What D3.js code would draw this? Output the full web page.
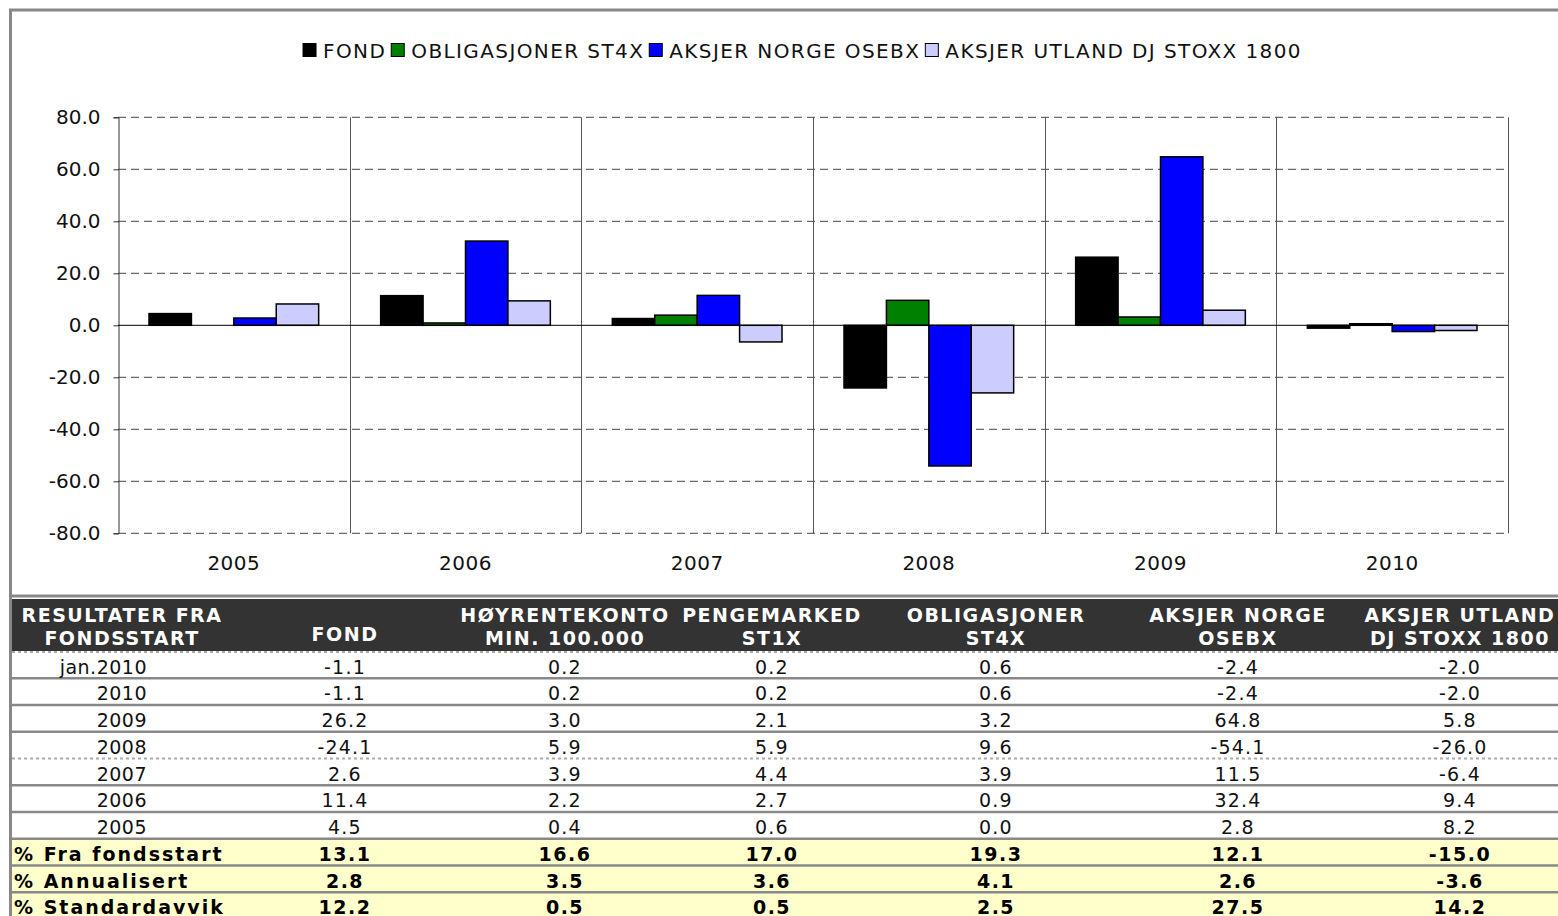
<!DOCTYPE html>
<html>
<head>
<meta charset="utf-8">
<script src="https://cdn.jsdelivr.net/npm/d3@7"></script>
<style>
  body { margin: 0; background: #fff; }
  svg { display: block; font-family: "DejaVu Sans", Verdana, sans-serif; }
</style>
</head>
<body>
<div id="chart"></div>
<script>
// chart data
var years = ["2005", "2006", "2007", "2008", "2009", "2010"];
var seriesNames = ["FOND", "OBLIGASJONER ST4X", "AKSJER NORGE OSEBX", "AKSJER UTLAND DJ STOXX 1800"];
var seriesColors = ["#000000", "#008000", "#0000ff", "#ccccff"];
var fond = [4.5, 11.4, 2.6, -24.1, 26.2, -1.1];
var obligasjoner = [0.0, 0.9, 3.9, 9.6, 3.2, 0.6];
var aksjerNorge = [2.8, 32.4, 11.5, -54.1, 64.8, -2.4];
var aksjerUtland = [8.2, 9.4, -6.4, -26.0, 5.8, -2.0];
var yTicks = [-80, -60, -40, -20, 0, 20, 40, 60, 80];

// table data
var tableHeaders = [
    ["RESULTATER FRA", "FONDSSTART"],
    ["FOND"],
    ["HØYRENTEKONTO", "MIN. 100.000"],
    ["PENGEMARKED", "ST1X"],
    ["OBLIGASJONER", "ST4X"],
    ["AKSJER NORGE", "OSEBX"],
    ["AKSJER UTLAND", "DJ STOXX 1800"]
];
var rowLabels = ["jan.2010", "2010", "2009", "2008", "2007", "2006", "2005"];
var rowValues = [
    [-1.1, 0.2, 0.2, 0.6, -2.4, -2.0],
    [-1.1, 0.2, 0.2, 0.6, -2.4, -2.0],
    [26.2, 3.0, 2.1, 3.2, 64.8, 5.8],
    [-24.1, 5.9, 5.9, 9.6, -54.1, -26.0],
    [2.6, 3.9, 4.4, 3.9, 11.5, -6.4],
    [11.4, 2.2, 2.7, 0.9, 32.4, 9.4],
    [4.5, 0.4, 0.6, 0.0, 2.8, 8.2]
];
var summaryLabels = ["% Fra fondsstart", "% Annualisert", "% Standardavvik"];
var summaryValues = [
    [13.1, 16.6, 17.0, 19.3, 12.1, -15.0],
    [2.8, 3.5, 3.6, 4.1, 2.6, -3.6],
    [12.2, 0.5, 0.5, 2.5, 27.5, 14.2]
];

////////////////////////////////////////////////////////////////////////////////

var W = 1558, H = 916;
var plot = { left: 118, right: 1508, top: 117.3, bottom: 533.3 };
var colCenters = [122, 345, 565, 772, 996, 1238, 1460];
var fmt = d3.formatLocale({
    decimal: ".", thousands: ",", grouping: [3], currency: ["", ""], minus: "-"
}).format(".1f");

var svg = d3.select("#chart").append("svg")
    .attr("width", W)
    .attr("height", H);

// frame round the chart
svg.append("rect")
    .attr("x", 10.5).attr("y", 10)
    .attr("width", 1600).attr("height", 586)
    .attr("fill", "#fff")
    .attr("stroke", "#888").attr("stroke-width", 3);

var x = d3.scaleBand().domain(years).range([plot.left, plot.right]);
var xs = d3.scaleBand().domain(seriesNames)
    .range([31, x.bandwidth() - 31]);
var y = d3.scaleLinear().domain([-80, 80]).range([plot.bottom, plot.top]);

// grid lines
svg.append("g").selectAll("line")
    .data(yTicks.filter(function(d) { return d != 0; }))
    .enter().append("line")
    .attr("x1", plot.left).attr("x2", plot.right)
    .attr("y1", function(d) { return y(d); })
    .attr("y2", function(d) { return y(d); })
    .attr("stroke", "#444").attr("stroke-width", 1)
    .attr("stroke-dasharray", "8,5");

// category separators
svg.append("g").selectAll("line")
    .data(years.slice(1).concat(["end"]))
    .enter().append("line")
    .attr("x1", function(d, i) { return Math.round(i < years.length - 1 ? x(d) : plot.right) + 0.5; })
    .attr("x2", function(d, i) { return Math.round(i < years.length - 1 ? x(d) : plot.right) + 0.5; })
    .attr("y1", plot.top).attr("y2", plot.bottom)
    .attr("stroke", "#555").attr("stroke-width", 1);

// y axis
var yAxis = d3.axisLeft(y)
    .tickValues(yTicks)
    .tickFormat(fmt)
    .tickSize(5)
    .tickPadding(13);
var yg = svg.append("g")
    .attr("transform", "translate(" + (plot.left + 0.5) + ",0)")
    .call(yAxis);
yg.select(".domain").attr("stroke", "#333");
yg.selectAll(".tick line").attr("stroke", "#333");
yg.selectAll("text")
    .attr("font-family", "DejaVu Sans, sans-serif")
    .attr("font-size", 20)
    .attr("fill", "#111");

// bars
var series = [fond, obligasjoner, aksjerNorge, aksjerUtland];
var barData = [];
years.forEach(function(yr, i) {
    series.forEach(function(s, j) {
        barData.push({ year: yr, name: seriesNames[j], color: seriesColors[j], value: s[i] });
    });
});

svg.append("g").selectAll("rect")
    .data(barData.filter(function(d) { return d.value != 0; }))
    .enter().append("rect")
    .attr("x", function(d) { return x(d.year) + xs(d.name); })
    .attr("width", xs.bandwidth())
    .attr("y", function(d) { return y(Math.max(0, d.value)); })
    .attr("height", function(d) { return Math.abs(y(d.value) - y(0)); })
    .attr("fill", function(d) { return d.color; })
    .attr("stroke", "#000").attr("stroke-width", 1.5);

// zero line
svg.append("line")
    .attr("x1", plot.left).attr("x2", plot.right)
    .attr("y1", y(0)).attr("y2", y(0))
    .attr("stroke", "#000").attr("stroke-width", 1);

// x labels
svg.append("g").selectAll("text")
    .data(years)
    .enter().append("text")
    .attr("x", function(d) { return x(d) + x.bandwidth() / 2; })
    .attr("y", 570)
    .attr("text-anchor", "middle")
    .attr("font-size", 20)
    .attr("letter-spacing", 0.5)
    .attr("fill", "#111")
    .text(function(d) { return d; });

// legend, packed then centred over the plot
var legend = svg.append("g");
var lx = 0;
seriesNames.forEach(function(name, i) {
    legend.append("rect")
        .attr("x", lx).attr("y", 43.5)
        .attr("width", 13).attr("height", 13)
        .attr("fill", seriesColors[i])
        .attr("stroke", "#000").attr("stroke-width", 1);
    var t = legend.append("text")
        .attr("x", lx + 20).attr("y", 58)
        .attr("font-size", 20)
        .attr("letter-spacing", 1.4)
        .attr("fill", "#111")
        .text(name);
    lx += 20 + t.node().getComputedTextLength() + 5;
});
legend.attr("transform", "translate(" + (805 - lx / 2) + ",0)");

////////////////////////////////////////////////////////////////////////////////
// table

var headTop = 599, headH = 52, rowTop = 652, rowH = 26.75;

// left border keeps going down
svg.append("line")
    .attr("x1", 10.5).attr("x2", 10.5)
    .attr("y1", 596).attr("y2", H)
    .attr("stroke", "#888").attr("stroke-width", 3);

svg.append("rect")
    .attr("x", 12).attr("y", headTop)
    .attr("width", W - 12).attr("height", headH)
    .attr("fill", "#333");

svg.append("g").selectAll("text")
    .data(tableHeaders)
    .enter().append("text")
    .attr("x", function(d, i) { return colCenters[i]; })
    .attr("text-anchor", "middle")
    .attr("font-size", 19)
    .attr("font-weight", "bold")
    .attr("letter-spacing", 1.5)
    .attr("fill", "#fff")
    .each(function(d) {
        var el = d3.select(this);
        if (d.length == 1)
        {
            el.attr("y", 641).text(d[0]);
        }
        else
        {
            el.attr("y", 621.5);
            d.forEach(function(line, k) {
                el.append("tspan")
                    .attr("x", el.attr("x"))
                    .attr("dy", k == 0 ? 0 : 23.5)
                    .text(line);
            });
        }
    });

// yellow summary rows
var sumTop = rowTop + rowLabels.length * rowH;
svg.append("rect")
    .attr("x", 12).attr("y", sumTop)
    .attr("width", W - 12).attr("height", H - sumTop)
    .attr("fill", "#ffffcc");

// row separators
var sepCount = rowLabels.length + summaryLabels.length - 1;
for (var i = 0; i < sepCount; ++i)
{
    var sy = rowTop + (i + 1) * rowH - 0.5;
    var dotted = (i == 3);
    svg.append("line")
        .attr("x1", 12).attr("x2", W)
        .attr("y1", sy).attr("y2", sy)
        .attr("stroke", dotted ? "#aaa" : "#888")
        .attr("stroke-width", dotted ? 2 : 2.5)
        .attr("stroke-dasharray", dotted ? "3,3" : null);
}
svg.append("line")
    .attr("x1", 12).attr("x2", W)
    .attr("y1", rowTop).attr("y2", rowTop)
    .attr("stroke", "#aaa").attr("stroke-width", 2)
    .attr("stroke-dasharray", "3,3");

// plain rows
var rows = svg.append("g").selectAll("g")
    .data(rowValues)
    .enter().append("g")
    .attr("transform", function(d, i) { return "translate(0," + (rowTop + i * rowH + 21.5) + ")"; });

rows.append("text")
    .attr("x", 147)
    .attr("text-anchor", "end")
    .attr("font-size", 19)
    .attr("letter-spacing", 0.5)
    .attr("fill", "#111")
    .text(function(d, i) { return rowLabels[i]; });

rows.selectAll(".v")
    .data(function(d) { return d; })
    .enter().append("text")
    .attr("class", "v")
    .attr("x", function(d, j) { return colCenters[j + 1]; })
    .attr("text-anchor", "middle")
    .attr("font-size", 19)
    .attr("letter-spacing", 1.2)
    .attr("fill", "#111")
    .text(function(d) { return fmt(d); });

// bold summary rows
var sums = svg.append("g").selectAll("g")
    .data(summaryValues)
    .enter().append("g")
    .attr("transform", function(d, i) { return "translate(0," + (sumTop + i * rowH + 21.5) + ")"; });

sums.append("text")
    .attr("x", 14)
    .attr("font-size", 19)
    .attr("font-weight", "bold")
    .attr("letter-spacing", 2)
    .attr("fill", "#000")
    .text(function(d, i) { return summaryLabels[i]; });

sums.selectAll(".v")
    .data(function(d) { return d; })
    .enter().append("text")
    .attr("class", "v")
    .attr("x", function(d, j) { return colCenters[j + 1]; })
    .attr("text-anchor", "middle")
    .attr("font-size", 19)
    .attr("font-weight", "bold")
    .attr("letter-spacing", 1.5)
    .attr("fill", "#000")
    .text(function(d) { return fmt(d); });
</script>
</body>
</html>
